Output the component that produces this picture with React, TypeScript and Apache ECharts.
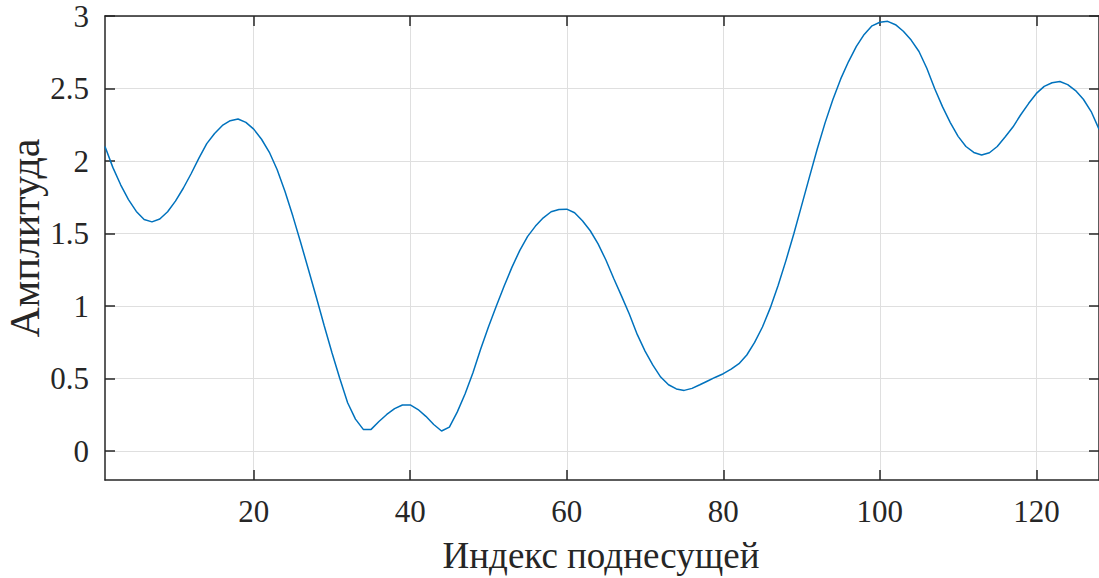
import React, { useEffect, useRef } from "react";
import * as echarts from "echarts";

// Subcarrier index 1..128
const subcarrierIndex: number[] = Array.from({ length: 128 }, (_, k) => k + 1);

// Amplitude per subcarrier
const amplitude: number[] = [
  2.10, 1.956, 1.836, 1.734, 1.652, 1.596, 1.580, 1.600, 1.650, 1.723,
  1.812, 1.912, 2.020, 2.120, 2.190, 2.245, 2.278, 2.290, 2.266, 2.220,
  2.150, 2.060, 1.940, 1.790, 1.620, 1.438, 1.250, 1.060, 0.866, 0.678,
  0.500, 0.333, 0.220, 0.149, 0.149, 0.203, 0.252, 0.292, 0.317, 0.318,
  0.286, 0.239, 0.183, 0.138, 0.165, 0.268, 0.393, 0.538, 0.703, 0.857,
  1.000, 1.138, 1.268, 1.384, 1.480, 1.551, 1.608, 1.650, 1.666, 1.668,
  1.643, 1.588, 1.519, 1.428, 1.317, 1.190, 1.068, 0.943, 0.804, 0.689,
  0.592, 0.510, 0.457, 0.428, 0.418, 0.432, 0.457, 0.483, 0.509, 0.533,
  0.564, 0.602, 0.662, 0.749, 0.855, 0.987, 1.142, 1.313, 1.497, 1.692,
  1.889, 2.083, 2.263, 2.424, 2.566, 2.686, 2.790, 2.873, 2.932, 2.957,
  2.963, 2.940, 2.895, 2.834, 2.755, 2.640, 2.500, 2.375, 2.265, 2.170,
  2.100, 2.059, 2.041, 2.057, 2.100, 2.165, 2.234, 2.319, 2.396, 2.466,
  2.515, 2.540, 2.548, 2.527, 2.486, 2.426, 2.341, 2.220,
];

// Tick positions
const xTicks: number[] = [20, 40, 60, 80, 100, 120];
const yTicks: number[] = [0, 0.5, 1, 1.5, 2, 2.5, 3];

const xName = "Индекс поднесущей";
const yName = "Амплитуда";

const AXIS_COLOR = "#262626";
const GRID_COLOR = "#dfdfdf";
const LINE_COLOR = "#0072BD";
const FONT = "'Liberation Serif', 'Times New Roman', serif";
const TICK_FONT_SIZE = 31;

export default function App() {
  const ref = useRef<HTMLDivElement>(null);

  useEffect(() => {
    if (!ref.current) return;
    const chart = echarts.init(ref.current, undefined, { renderer: "svg" });

    const axisLineStyle = { color: AXIS_COLOR, width: 1.5 };
    const tickBase = {
      show: true,
      inside: true,
      length: 10,
      lineStyle: { color: AXIS_COLOR, width: 1.5 },
    };
    const labelText = {
      color: AXIS_COLOR,
      fontFamily: FONT,
      fontSize: TICK_FONT_SIZE,
    };

    chart.setOption({
      animation: false,
      backgroundColor: "#ffffff",
      grid: { left: 105, right: -1, top: 16, bottom: 98, containLabel: false },
      graphic: [
        {
          type: "text",
          x: 601,
          y: 555,
          style: {
            text: xName,
            fill: AXIS_COLOR,
            font: `37px ${FONT}`,
            textAlign: "center",
            textVerticalAlign: "middle",
          },
        },
        {
          type: "text",
          x: 25,
          y: 238,
          rotation: Math.PI / 2,
          style: {
            text: yName,
            fill: AXIS_COLOR,
            font: `42px ${FONT}`,
            textAlign: "center",
            textVerticalAlign: "middle",
          },
        },
      ],
      xAxis: [
        {
          type: "value",
          min: 1,
          max: 128,
          position: "bottom",
          axisLine: { show: true, onZero: false, lineStyle: axisLineStyle },
          axisTick: { ...tickBase, customValues: xTicks },
          axisLabel: { ...labelText, margin: 16, customValues: xTicks },
          splitLine: { show: true, lineStyle: { color: GRID_COLOR, width: 1 } },
        },
        {
          type: "value",
          min: 1,
          max: 128,
          position: "top",
          axisLine: { show: true, onZero: false, lineStyle: axisLineStyle },
          axisTick: { ...tickBase, customValues: xTicks },
          axisLabel: { show: false, customValues: xTicks },
          splitLine: { show: false },
        },
      ],
      yAxis: [
        {
          type: "value",
          min: -0.2,
          max: 3,
          position: "left",
          axisLine: { show: true, onZero: false, lineStyle: axisLineStyle },
          axisTick: { ...tickBase, customValues: yTicks },
          axisLabel: { ...labelText, margin: 16, customValues: yTicks },
          splitLine: { show: true, lineStyle: { color: GRID_COLOR, width: 1 } },
        },
        {
          type: "value",
          min: -0.2,
          max: 3,
          position: "right",
          axisLine: { show: true, onZero: false, lineStyle: axisLineStyle },
          axisTick: { ...tickBase, customValues: yTicks },
          axisLabel: { show: false, customValues: yTicks },
          splitLine: { show: false },
        },
      ],
      series: [
        {
          type: "line",
          xAxisIndex: 0,
          yAxisIndex: 0,
          data: subcarrierIndex.map((x, k) => [x, amplitude[k]]),
          showSymbol: false,
          smooth: false,
          lineStyle: { color: LINE_COLOR, width: 1.5 },
          itemStyle: { color: LINE_COLOR },
          z: 3,
        },
      ],
    });

    return () => chart.dispose();
  }, []);

  return (
    <div
      ref={ref}
      style={{ position: "absolute", left: 0, top: 0, width: 1099, height: 578 }}
    />
  );
}
